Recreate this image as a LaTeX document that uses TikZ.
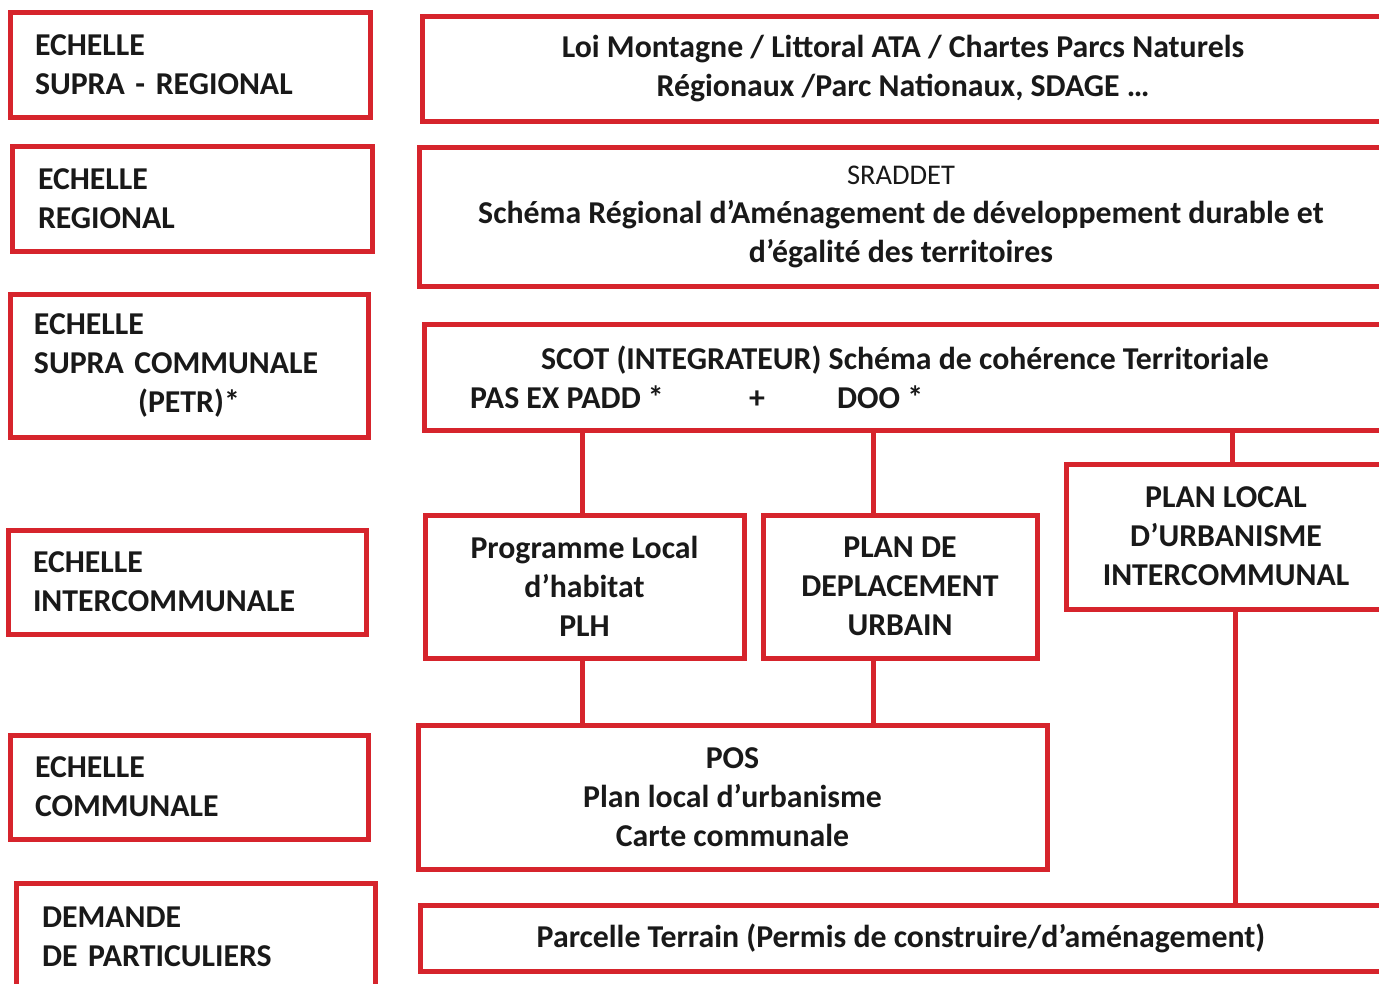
\documentclass[tikz,border=0pt]{standalone}
\usepackage{fontspec}
\setmainfont{Carlito}
\definecolor{bred}{RGB}{214,36,44}
\definecolor{ink}{RGB}{25,25,25}
\tikzset{
  box/.style={draw=bred, line width=5pt, inner sep=0pt, text=ink,
              font=\fontsize{31.8}{39}\selectfont\bfseries},
  lbox/.style={box, align=left, text width=#1},
  cbox/.style={box, align=center},
  txt/.style={inner sep=0pt, text=ink, font=\fontsize{31.8}{39}\selectfont\bfseries},
  link/.style={draw=bred, line width=5pt},
}
\begin{document}
\begin{tikzpicture}[x=1pt,y=-1pt]
\useasboundingbox (0,0) rectangle (1379,983);
\fill[white] (0,0) rectangle (1379,983);

% left column
\node[lbox=310pt, minimum width=360pt, minimum height=105pt] (L1) at (190,64.5) {ECHELLE\\SUPRA - REGIONAL};
\node[lbox=308pt, minimum width=360pt, minimum height=105pt] (L2) at (192,198.5) {ECHELLE\\REGIONAL};
\node[lbox=310pt, minimum width=358pt, minimum height=143pt] (L3) at (189,365.5) {ECHELLE\\SUPRA COMMUNALE\\\makebox[\hsize]{(PETR)*}};
\node[lbox=308pt, minimum width=358pt, minimum height=104pt] (L4) at (187,582) {ECHELLE\\INTERCOMMUNALE};
\node[lbox=308pt, minimum width=358pt, minimum height=104pt] (L5) at (189,787) {ECHELLE\\COMMUNALE};
\node[lbox=307pt, minimum width=359pt, minimum height=107pt] (L6) at (195.5,936.5) {DEMANDE\\DE PARTICULIERS};

% right column
\node[cbox, minimum width=962pt, minimum height=105pt] (A) at (903,68.5)
  {Loi Montagne / Littoral ATA / Chartes Parcs Naturels\\Régionaux /Parc Nationaux, SDAGE …};
\node[cbox, minimum width=964pt, minimum height=139pt] (B) at (901,216.5)
  {{\fontsize{28.5}{36}\selectfont\mdseries SRADDET}\\Schéma Régional d’Aménagement de développement durable et\\d’égalité des territoires};
\node[box, minimum width=962pt, minimum height=106pt] (C) at (905,377) {};
\node[txt, anchor=base] (C1) at (905,369) {SCOT (INTEGRATEUR) Schéma de cohérence Territoriale};
\node[txt, anchor=base west] (C2) at (470,408) {PAS EX PADD *};
\node[txt, anchor=base] (C3) at (757,408) {+};
\node[txt, anchor=base west] (C4) at (837,408) {DOO *};

\node[cbox, minimum width=319pt, minimum height=143pt] (D) at (584.5,586.5) {Programme Local\\d’habitat\\PLH};
\node[cbox, minimum width=274pt, minimum height=143pt] (E) at (900,586.5) {PLAN DE\\DEPLACEMENT\\URBAIN};
\node[cbox, minimum width=320pt, minimum height=145pt] (F) at (1226,536.5) {PLAN LOCAL\\D’URBANISME\\INTERCOMMUNAL};
\node[cbox, minimum width=629pt, minimum height=144pt] (G) at (732.5,797.5) {POS\\Plan local d’urbanisme\\Carte communale};
\node[cbox, minimum width=962pt, minimum height=66pt] (H) at (901,938.5) {Parcelle Terrain (Permis de construire/d’aménagement)};

% connectors
\draw[link] ([xshift=-2.5pt]D.north) -- ([xshift=-2.5pt]D.north |- C.south);
\draw[link] ([xshift=-27pt]E.north) -- ([xshift=-27pt]E.north |- C.south);
\draw[link] ([xshift=6pt]F.north) -- ([xshift=6pt]F.north |- C.south);
\draw[link] ([xshift=-2.5pt]D.south) -- ([xshift=-2.5pt]D.south |- G.north);
\draw[link] ([xshift=-27pt]E.south) -- ([xshift=-27pt]E.south |- G.north);
\draw[link] ([xshift=9pt]F.south) -- ([xshift=9pt]F.south |- H.north);
\end{tikzpicture}
\end{document}
